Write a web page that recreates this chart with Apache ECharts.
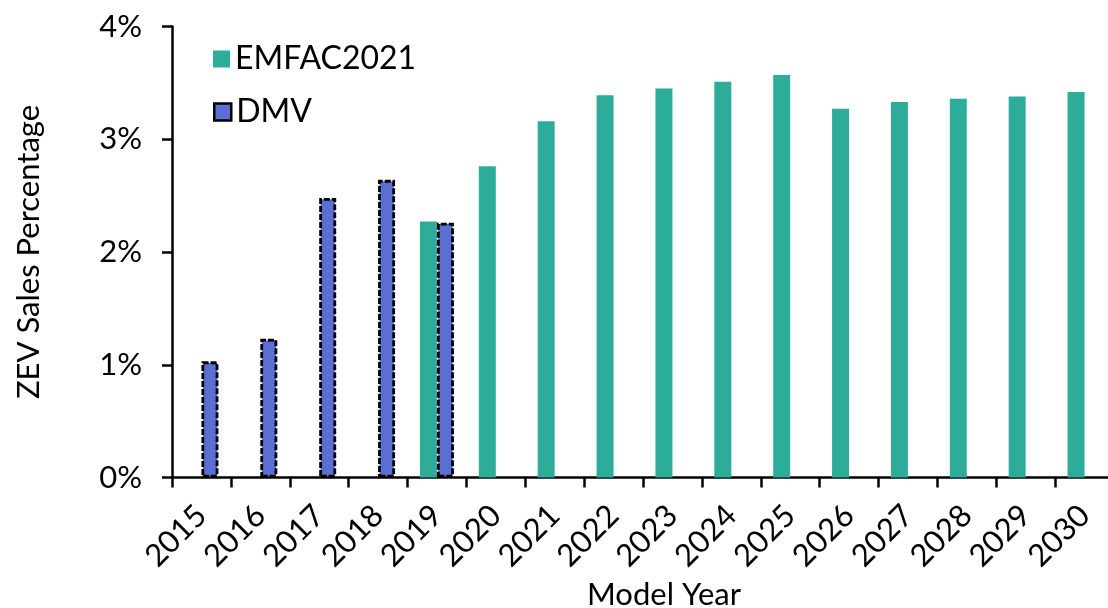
<!DOCTYPE html>
<html>
<head>
<meta charset="utf-8">
<script src="https://cdn.jsdelivr.net/npm/echarts@6/dist/echarts.min.js"></script>
<style>
html,body{margin:0;padding:0;background:#fff;}
#c{width:1108px;height:608px;}
</style>
</head>
<body>
<div id="c"></div>
<script>
const years = ['2015','2016','2017','2018','2019','2020','2021','2022','2023','2024','2025','2026','2027','2028','2029','2030'];
const emfac2021 = [null,null,null,null,2.27,2.76,3.16,3.39,3.45,3.51,3.57,3.27,3.33,3.36,3.38,3.42];
const dmv = [1.03,1.23,2.48,2.64,2.26,null,null,null,null,null,null,null,null,null,null,null];
const yTicks = {min:0, max:4, interval:1};

const FONT = 'Lato';
const chart = echarts.init(document.getElementById('c'), null, {renderer:'canvas'});
chart.setOption({
  animation:false,
  backgroundColor:'#fff',
  textStyle:{fontFamily:FONT, color:'#000'},
  grid:{left:172, right:-6, top:26.5, bottom:130.5, containLabel:false, outerBoundsMode:'none'},
  legend:[
    {data:['EMFAC2021'], orient:'vertical', left:208, top:38, itemWidth:17, itemHeight:17, icon:'rect',
     textStyle:{fontFamily:FONT, fontSize:32, color:'#000', padding:[0,0,0,0]}},
    {data:['DMV'], orient:'vertical', left:208, top:91, itemWidth:17, itemHeight:17, icon:'rect',
     itemStyle:{borderWidth:2.5},
     textStyle:{fontFamily:FONT, fontSize:32, color:'#000', padding:[0,0,0,0]}}
  ],
  xAxis:{
    type:'category', data:years,
    name:'Model Year', nameLocation:'middle', nameGap:91,
    nameTextStyle:{fontFamily:FONT, fontSize:31, color:'#000', padding:[0,0,0,42]},
    axisLine:{lineStyle:{color:'#000', width:2.5}},
    axisTick:{show:true, length:10, lineStyle:{color:'#000', width:2.5}},
    axisLabel:{rotate:45, margin:33, fontFamily:FONT, fontSize:31, color:'#000', interval:0}
  },
  yAxis:{
    type:'value', min:yTicks.min, max:yTicks.max, interval:yTicks.interval,
    name:'ZEV Sales Percentage', nameLocation:'middle', nameGap:128, nameRotate:90,
    nameTextStyle:{fontFamily:FONT, fontSize:31, color:'#000'},
    axisLine:{show:true, lineStyle:{color:'#000', width:2.5}},
    axisTick:{show:true, length:10, lineStyle:{color:'#000', width:2.5}},
    splitLine:{show:false},
    axisLabel:{margin:30, fontFamily:FONT, fontSize:31, color:'#000', formatter:'{value}%'}
  },
  series:[
    {name:'EMFAC2021', type:'bar', data:emfac2021, barWidth:17, barGap:'0%',
     itemStyle:{color:'#2EAC9A'}},
    {name:'DMV', type:'bar', data:dmv, barWidth:17, barGap:'0%',
     itemStyle:{color:'#5B6ED1', borderColor:'#000', borderWidth:2.8, borderType:[6,2]}}
  ]
});
</script>
</body>
</html>
